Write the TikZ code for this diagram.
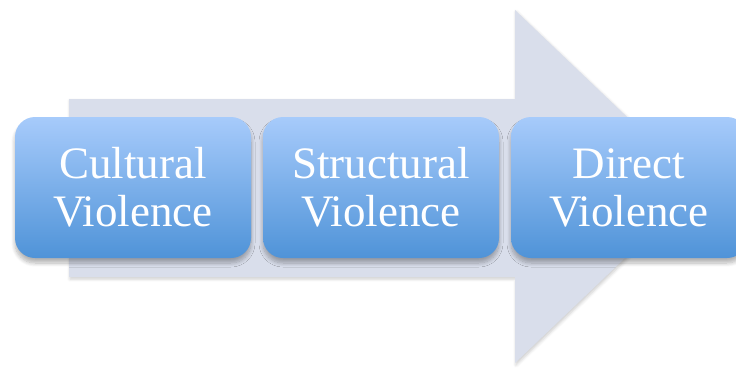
\documentclass[tikz,border=0pt]{standalone}
\usepackage{fontspec}
\setmainfont{Liberation Serif}
\usetikzlibrary{shadows.blur}
\definecolor{arrowfill}{HTML}{D9DEEB}
\definecolor{boxtop}{HTML}{A7CBFB}
\definecolor{boxbottom}{HTML}{4F93D8}
\tikzset{
  violencebox/.style={
    rectangle, rounded corners=20pt,
    minimum width=236pt, minimum height=141pt,
    top color=boxtop, bottom color=boxbottom, draw=none,
    text=white, align=center,
    font=\fontsize{45}{48}\selectfont,
    blur shadow={shadow xshift=0pt, shadow yshift=-5pt,
                 shadow blur radius=4pt, shadow blur steps=8,
                 shadow opacity=30}
  },
  bigarrow/.style={fill=arrowfill, draw=none,
    blur shadow={shadow xshift=1pt, shadow yshift=-2pt,
                 shadow blur radius=3pt, shadow opacity=20}}
}
\begin{document}
\begin{tikzpicture}[x=1pt,y=-1pt]
  \useasboundingbox (0,0) rectangle (736,367);
  \clip (0,0) rectangle (736,367);
  % broad background arrow
  \path[bigarrow] (69,99) -- (515,99) -- (515,10) -- (700,186.5)
        -- (515,363) -- (515,277) -- (69,277) -- cycle;
  % the three stages
  \node[violencebox] (cultural)   at (133,187.5) {Cultural\\Violence};
  \node[violencebox] (structural) at (381,187.5) {Structural\\Violence};
  \node[violencebox] (direct)     at (629,187.5) {Direct\\Violence};
\end{tikzpicture}
\end{document}
